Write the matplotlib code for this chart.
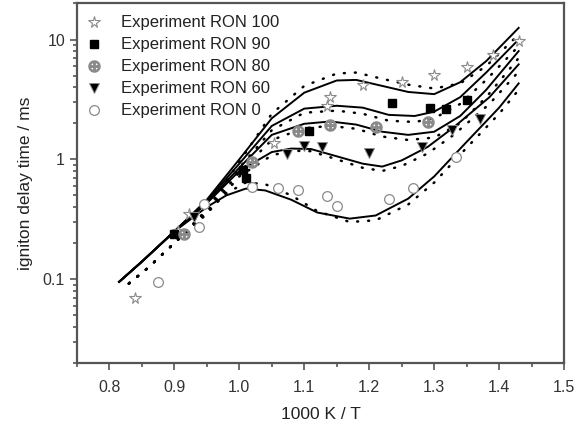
import matplotlib
matplotlib.use("Agg")
import matplotlib.pyplot as plt
from matplotlib.ticker import LogLocator, NullFormatter, FixedLocator, MultipleLocator

plt.rcParams['font.family'] = ['Liberation Sans', 'DejaVu Sans']

# ---- model curves (solid) ----
x_ron100 = [0.815, 0.85, 0.90, 0.95, 1.00, 1.05, 1.10, 1.15, 1.18, 1.22, 1.26, 1.30, 1.34, 1.38, 1.43]
y_ron100 = [0.095, 0.14, 0.25, 0.46, 1.00, 2.20, 3.60, 4.55, 4.60, 4.10, 3.65, 3.50, 4.40, 6.60, 12.5]

x_ron90 = [0.815, 0.85, 0.90, 0.95, 1.00, 1.05, 1.10, 1.15, 1.19, 1.23, 1.27, 1.30, 1.34, 1.38, 1.43]
y_ron90 = [0.095, 0.14, 0.25, 0.45, 0.92, 1.90, 2.65, 2.80, 2.70, 2.35, 2.30, 2.50, 3.30, 5.30, 10.0]

x_ron80 = [0.815, 0.85, 0.90, 0.95, 1.00, 1.05, 1.10, 1.14, 1.18, 1.22, 1.26, 1.30, 1.34, 1.38, 1.43]
y_ron80 = [0.095, 0.14, 0.25, 0.44, 0.85, 1.60, 1.98, 2.07, 1.95, 1.70, 1.60, 1.70, 2.30, 3.80, 8.0]

x_ron60 = [0.815, 0.85, 0.90, 0.95, 1.00, 1.05, 1.08, 1.11, 1.15, 1.19, 1.22, 1.25, 1.29, 1.33, 1.385, 1.43]
y_ron60 = [0.095, 0.14, 0.25, 0.43, 0.80, 1.15, 1.23, 1.22, 1.06, 0.92, 0.87, 0.98, 1.27, 1.85, 3.30, 6.2]

x_ron0 = [0.815, 0.85, 0.90, 0.95, 0.98, 1.01, 1.04, 1.08, 1.12, 1.17, 1.21, 1.26, 1.30, 1.35, 1.40, 1.43]
y_ron0 = [0.095, 0.14, 0.25, 0.40, 0.50, 0.57, 0.55, 0.46, 0.36, 0.32, 0.34, 0.47, 0.72, 1.40, 2.70, 4.3]

# ---- second model (dotted) ----
xd_ron100 = [0.83, 0.86, 0.90, 0.95, 1.00, 1.05, 1.10, 1.15, 1.18, 1.22, 1.26, 1.30, 1.34, 1.38, 1.43]
yd_ron100 = [0.092, 0.125, 0.20, 0.38, 0.95, 2.40, 4.10, 5.20, 5.30, 4.70, 4.20, 3.90, 4.30, 6.00, 11.0]

xd_ron90 = [0.83, 0.86, 0.90, 0.95, 1.00, 1.05, 1.10, 1.15, 1.19, 1.23, 1.27, 1.30, 1.34, 1.38, 1.43]
yd_ron90 = [0.092, 0.125, 0.20, 0.37, 0.85, 1.75, 2.45, 2.55, 2.40, 2.10, 2.05, 2.20, 2.90, 4.60, 8.8]

xd_ron80 = [0.83, 0.86, 0.90, 0.95, 1.00, 1.05, 1.10, 1.14, 1.18, 1.22, 1.26, 1.30, 1.34, 1.38, 1.43]
yd_ron80 = [0.092, 0.125, 0.20, 0.36, 0.78, 1.45, 1.82, 1.90, 1.80, 1.55, 1.45, 1.52, 2.00, 3.30, 7.0]

xd_ron60 = [0.83, 0.86, 0.90, 0.95, 1.00, 1.05, 1.08, 1.11, 1.15, 1.19, 1.22, 1.25, 1.29, 1.33, 1.385, 1.43]
yd_ron60 = [0.092, 0.125, 0.20, 0.35, 0.72, 1.08, 1.18, 1.17, 1.00, 0.85, 0.80, 0.88, 1.12, 1.60, 2.90, 5.4]

xd_ron0 = [0.83, 0.86, 0.90, 0.95, 0.98, 1.01, 1.04, 1.08, 1.12, 1.17, 1.21, 1.26, 1.30, 1.35, 1.40, 1.43]
yd_ron0 = [0.092, 0.125, 0.20, 0.36, 0.52, 0.64, 0.62, 0.50, 0.37, 0.30, 0.31, 0.42, 0.64, 1.25, 2.40, 3.8]

# ---- experiments ----
ex_ron100 = [0.84, 0.905, 0.922, 1.053, 1.135, 1.14, 1.19, 1.25, 1.30, 1.35, 1.39, 1.43]
ey_ron100 = [0.069, 0.25, 0.35, 1.38, 2.8, 3.3, 4.2, 4.4, 5.1, 5.9, 7.4, 9.8]

ex_ron90 = [0.90, 1.005, 1.01, 1.108, 1.235, 1.293, 1.318, 1.35]
ey_ron90 = [0.24, 0.82, 0.70, 1.74, 2.95, 2.70, 2.65, 3.10]

ex_ron80 = [0.915, 1.02, 1.09, 1.14, 1.21, 1.29]
ey_ron80 = [0.24, 0.95, 1.72, 1.95, 1.85, 2.05]

ex_ron60 = [0.93, 1.074, 1.10, 1.128, 1.20, 1.282, 1.328, 1.37]
ey_ron60 = [0.33, 1.10, 1.28, 1.26, 1.14, 1.26, 1.77, 2.17]

ex_ron0 = [0.875, 0.938, 0.945, 1.02, 1.06, 1.09, 1.135, 1.15, 1.23, 1.267, 1.334]
ey_ron0 = [0.095, 0.27, 0.42, 0.59, 0.575, 0.56, 0.49, 0.41, 0.47, 0.575, 1.04]

labels = ["Experiment RON 100", "Experiment RON 90", "Experiment RON 80",
          "Experiment RON 60", "Experiment RON 0"]

fig = plt.figure(figsize=(5.78, 4.29), dpi=100)
ax = fig.add_axes([0.133, 0.154, 0.843, 0.838])

solid = [(x_ron100, y_ron100), (x_ron90, y_ron90), (x_ron80, y_ron80),
         (x_ron60, y_ron60), (x_ron0, y_ron0)]
dotted = [(xd_ron100, yd_ron100), (xd_ron90, yd_ron90), (xd_ron80, yd_ron80),
          (xd_ron60, yd_ron60), (xd_ron0, yd_ron0)]
for x, y in dotted:
    ax.plot(x, y, color='black', lw=1.8, linestyle=(0, (0.4, 4.0)),
            dash_capstyle='round')
for x, y in solid:
    ax.plot(x, y, color='black', lw=1.4)

gray = '#8a8a8a'
ax.plot(ex_ron100, ey_ron100, ls='none', marker='*', ms=8.5, mfc='white',
        mec=gray, mew=0.8, label=labels[0])
ax.plot(ex_ron90, ey_ron90, ls='none', marker='s', ms=5.5, mfc='black',
        mec='black', label=labels[1])
ax.plot(ex_ron80, ey_ron80, ls='none', marker='$\\oplus$', ms=8,
        color=gray, label=labels[2])
ax.plot(ex_ron60, ey_ron60, ls='none', marker='v', ms=7, mfc='black',
        mec=gray, mew=0.7, label=labels[3])
ax.plot(ex_ron0, ey_ron0, ls='none', marker='o', ms=7, mfc='white',
        mec=gray, mew=0.9, label=labels[4])

ax.set_yscale('log')
ax.set_xlim(0.75, 1.5)
ax.set_ylim(0.02, 20)
ax.xaxis.set_major_locator(MultipleLocator(0.1))
ax.xaxis.set_minor_locator(MultipleLocator(0.05))
ax.xaxis.set_major_formatter(plt.FuncFormatter(lambda v, p: f"{v:.1f}"))
ax.yaxis.set_major_locator(FixedLocator([0.1, 1, 10]))
ax.yaxis.set_major_formatter(plt.FuncFormatter(lambda v, p: {0.1: "0.1", 1: "1", 10: "10"}.get(round(v, 3), "")))
ax.yaxis.set_minor_locator(LogLocator(base=10, subs=range(2, 10)))
ax.yaxis.set_minor_formatter(NullFormatter())

axcol = '#555555'
for s in ax.spines.values():
    s.set_color(axcol)
    s.set_linewidth(1.6)
ax.tick_params(which='both', direction='out', colors=axcol, labelcolor='#333333',
               labelsize=11.5, width=1.2)
ax.tick_params(which='major', length=5)
ax.tick_params(which='minor', length=3)
ax.tick_params(axis='x', pad=7)

ax.set_xlabel("1000 K / T", fontsize=12.5, color='#222222', labelpad=9)
ax.set_ylabel("igniton delay time / ms", fontsize=12.5, color='#222222', labelpad=7)

leg = ax.legend(loc='upper left', frameon=False, fontsize=12, handletextpad=1.05,
                labelspacing=0.42, borderaxespad=0.0, handlelength=1.2,
                bbox_to_anchor=(0.0, 0.985))
for t in leg.get_texts():
    t.set_color('#222222')

fig.savefig("out.png", dpi=100)
